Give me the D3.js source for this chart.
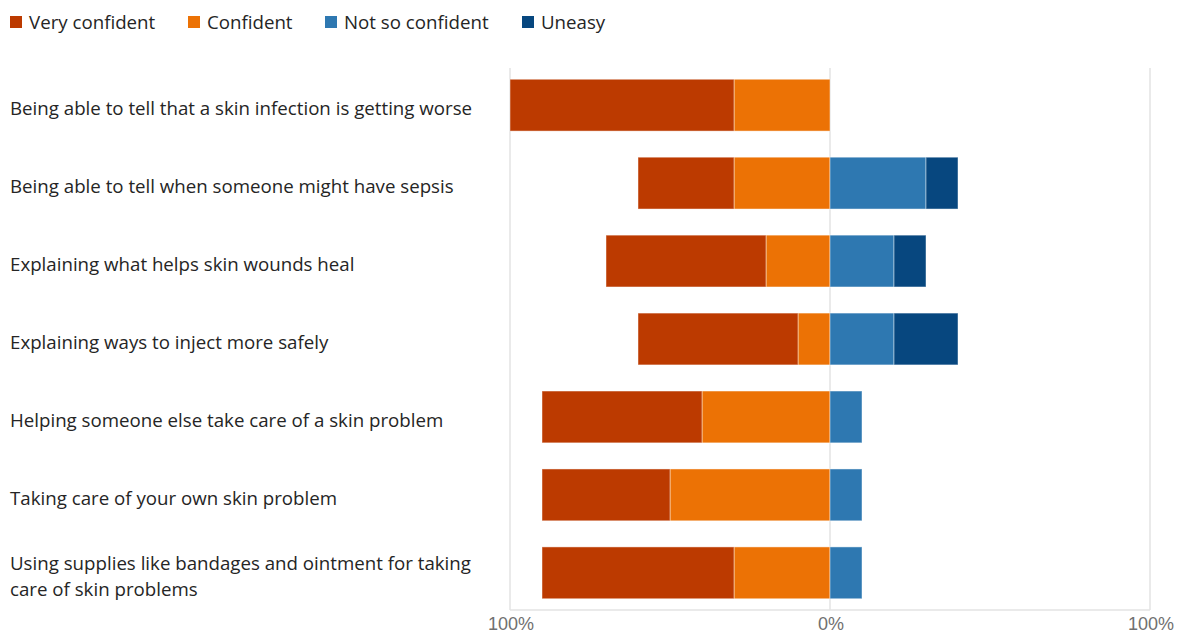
<!DOCTYPE html>
<html>
<head>
<meta charset="utf-8">
<script src="https://cdn.jsdelivr.net/npm/d3@7"></script>
<style>
  html, body { margin: 0; padding: 0; background: #fff; }
  svg { display: block; font-family: "Open Sans", "Noto Sans", sans-serif; }
</style>
</head>
<body>
<svg id="chart" width="1180" height="635"></svg>
<script>
// Survey items (rows, top to bottom)
const categories = [
  ["Being able to tell that a skin infection is getting worse"],
  ["Being able to tell when someone might have sepsis"],
  ["Explaining what helps skin wounds heal"],
  ["Explaining ways to inject more safely"],
  ["Helping someone else take care of a skin problem"],
  ["Taking care of your own skin problem"],
  ["Using supplies like bandages and ointment for taking", "care of skin problems"]
];
const seriesNames = ["Very confident", "Confident", "Not so confident", "Uneasy"];
const seriesColors = ["#bc3a00", "#ec7205", "#2e78b1", "#07477f"];

// Percent of responses per item
const veryConfident  = [70, 30, 50, 50, 50, 40, 60];
const confident      = [30, 30, 20, 10, 40, 50, 30];
const notSoConfident = [0, 30, 20, 20, 10, 10, 10];
const uneasy         = [0, 10, 10, 20, 0, 0, 0];

const tickValues = [-100, 0, 100];
const tickLabels = ["100%", "0%", "100%"];

const svg = d3.select("#chart");
const x = d3.scaleLinear().domain([-100, 100]).range([510, 1150]);
const y = d3.scaleBand().domain(d3.range(categories.length)).range([66, 612]).paddingInner(0.335).paddingOuter(0.17);

const plotTop = 68, plotBottom = 610;

// Grid lines
svg.append("g").selectAll("line").data(tickValues).join("line")
  .attr("x1", d => x(d)).attr("x2", d => x(d))
  .attr("y1", plotTop).attr("y2", plotBottom)
  .attr("stroke", "#e3e3e3").attr("stroke-width", 1.5);
svg.append("line")
  .attr("x1", x(-100)).attr("x2", x(100))
  .attr("y1", plotBottom).attr("y2", plotBottom)
  .attr("stroke", "#e3e3e3").attr("stroke-width", 1.5);

// Build diverging segments: positive categories extend left from zero
const segments = [];
categories.forEach((c, i) => {
  const vc = veryConfident[i], cf = confident[i], ns = notSoConfident[i], ue = uneasy[i];
  segments.push({ row: i, s: 1, x0: -cf, x1: 0 });
  segments.push({ row: i, s: 0, x0: -cf - vc, x1: -cf });
  segments.push({ row: i, s: 2, x0: 0, x1: ns });
  segments.push({ row: i, s: 3, x0: ns, x1: ns + ue });
});

svg.append("g").selectAll("rect").data(segments.filter(d => d.x1 > d.x0)).join("rect")
  .attr("x", d => x(d.x0))
  .attr("width", d => x(d.x1) - x(d.x0))
  .attr("y", d => y(d.row))
  .attr("height", y.bandwidth())
  .attr("fill", d => seriesColors[d.s])
  .attr("stroke", "rgba(255,255,255,0.45)")
  .attr("stroke-width", 1);

// Category labels
const labelSize = 18.7;
const labels = svg.append("g").selectAll("text").data(categories).join("text")
  .attr("x", 10)
  .attr("y", (d, i) => y(i) + y.bandwidth() / 2 + 3 - (d.length - 1) * 13)
  .attr("font-size", labelSize)
  .attr("fill", "#252525");
labels.selectAll("tspan").data(d => d).join("tspan")
  .attr("x", 10)
  .attr("dy", (d, j) => j === 0 ? "0.36em" : 26)
  .text(d => d);

// Axis labels
svg.append("g").selectAll("text").data(tickValues).join("text")
  .attr("x", d => x(d) + 1)
  .attr("y", 630)
  .attr("text-anchor", "middle")
  .attr("font-family", "'Liberation Sans', Arial, sans-serif")
  .attr("font-size", 18)
  .attr("fill", "#707070")
  .text((d, i) => tickLabels[i]);

// Legend
const legendX = [10, 188, 325, 522];
const legend = svg.append("g").selectAll("g").data(seriesNames).join("g")
  .attr("transform", (d, i) => `translate(${legendX[i]},22)`);
legend.append("rect")
  .attr("x", 0).attr("y", -6).attr("width", 12).attr("height", 12)
  .attr("fill", (d, i) => seriesColors[i]);
legend.append("text")
  .attr("x", 19).attr("y", 0).attr("dy", "0.36em")
  .attr("font-size", labelSize).attr("fill", "#252525")
  .text(d => d);
</script>
</body>
</html>
